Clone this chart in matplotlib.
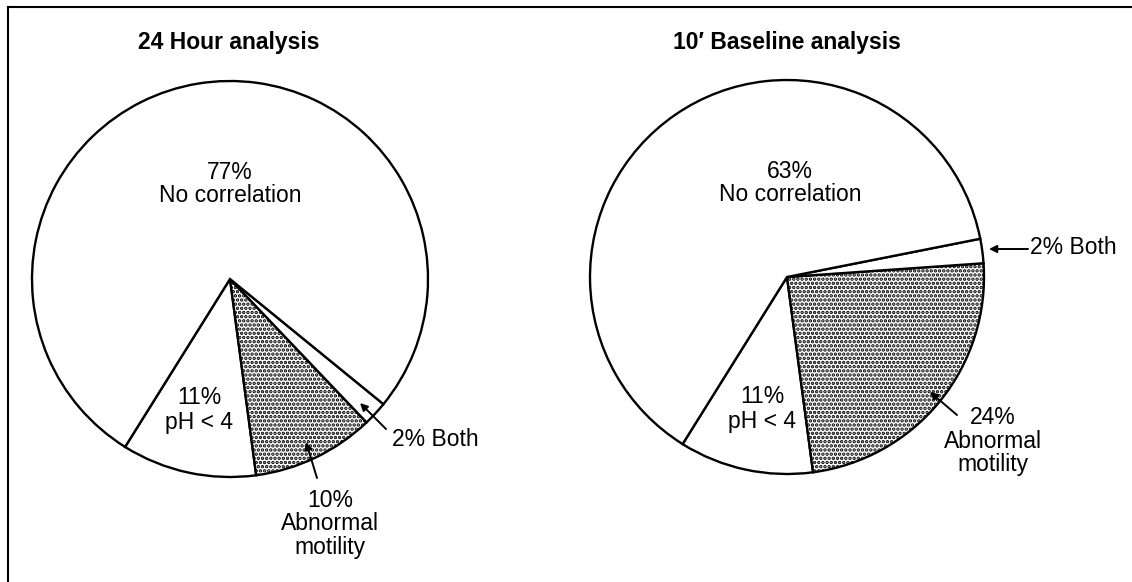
import matplotlib
matplotlib.use("Agg")
import matplotlib.pyplot as plt

W, H = 1132, 582
plt.rcParams['font.family'] = ['Liberation Sans', 'DejaVu Sans']
plt.rcParams['hatch.linewidth'] = 1.7

# ---- data ----
titles = ["24 Hour analysis", "10\u2032 Baseline analysis"]
categories = ["pH < 4", "Abnormal motility", "Both", "No correlation"]
pct_24h = [11, 10, 2, 77]
pct_base = [11, 24, 2, 63]

fig = plt.figure(figsize=(W / 100, H / 100), dpi=100)
ax = fig.add_axes([0, 0, 1, 1])

def Y(y):
    return H - y

def draw_pie(values, cx, cy, r):
    wedges, _ = ax.pie(values, startangle=-122, counterclock=True,
                       center=(cx, Y(cy)), radius=r,
                       colors=['white'] * len(values),
                       wedgeprops=dict(edgecolor='black', linewidth=1.7),
                       frame=True)
    wedges[1].set_hatch('....')
    return wedges

draw_pie(pct_24h, 230, 279, 198)
draw_pie(pct_base, 787, 277, 197)

FS = 16.5
def label(x, y, s, ha='center', ls=1.05):
    ax.text(x, Y(y), s, ha=ha, va='center', fontsize=FS, linespacing=ls, color='black')

def arrow(tail, head):
    ax.annotate('', xy=(head[0], Y(head[1])), xytext=(tail[0], Y(tail[1])),
                arrowprops=dict(arrowstyle='-|>', color='black', lw=1.4,
                                mutation_scale=11, shrinkA=0, shrinkB=0))

def lab(vals, i, sep='\n'):
    name = categories[i]
    if i == 1:
        name = name.replace(' ', '\n')
    return f"{vals[i]}%{sep}{name}"

# titles
ax.text(138, Y(42), titles[0], ha='left', va='center', fontsize=16.5, fontweight='bold')
ax.text(673, Y(42), titles[1], ha='left', va='center', fontsize=16.5, fontweight='bold')

# left pie labels
label(230, 184, lab(pct_24h, 3))
label(199, 410, lab(pct_24h, 0), ls=1.1)
label(392, 440, lab(pct_24h, 2, ' '), ha='left')
label(330, 524, lab(pct_24h, 1), ls=1.05)
arrow((317, 478), (306, 442))
arrow((386, 429), (360, 403))

# right pie labels
label(790, 183, lab(pct_base, 3))
label(762, 409, lab(pct_base, 0), ls=1.1)
label(1030, 248, lab(pct_base, 2, ' '), ha='left')
label(993, 441, lab(pct_base, 1), ls=1.05)
arrow((1028, 249), (989, 249))
arrow((957, 415), (930, 392))

# frame (left and top border)
ax.plot([8, 8], [Y(7), Y(582)], color='black', lw=1.5, clip_on=False)
ax.plot([8, W], [Y(7), Y(7)], color='black', lw=1.5, clip_on=False)

ax.set_xlim(0, W)
ax.set_ylim(0, H)
ax.set_aspect('equal')
ax.axis('off')

fig.savefig('out.png', dpi=100, facecolor='white')
